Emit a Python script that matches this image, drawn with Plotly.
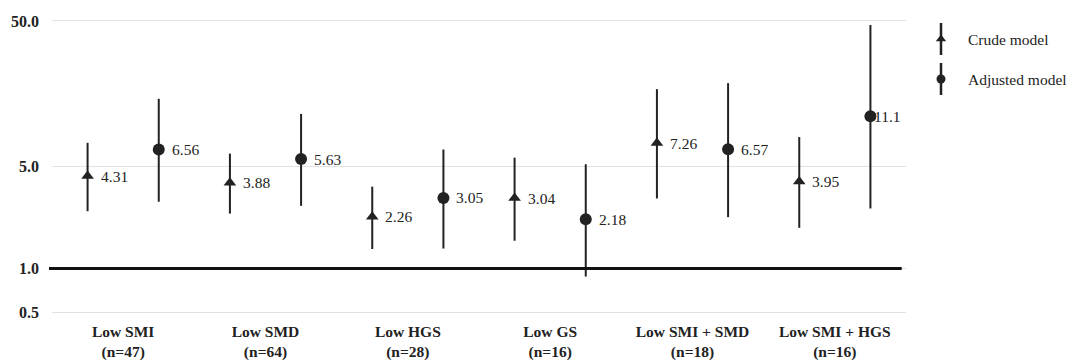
import plotly.graph_objects as go
import math

# ---- data ----
categories = ["Low SMI", "Low SMD", "Low HGS", "Low GS", "Low SMI + SMD", "Low SMI + HGS"]
n_labels = ["(n=47)", "(n=64)", "(n=28)", "(n=16)", "(n=18)", "(n=16)"]

crude = [4.31, 3.88, 2.26, 3.04, 7.26, 3.95]
crude_lo = [2.47, 2.38, 1.36, 1.55, 3.02, 1.90]
crude_hi = [7.28, 6.14, 3.64, 5.76, 17.0, 7.97]

adjusted = [6.56, 5.63, 3.05, 2.18, 6.57, 11.1]
adjusted_lo = [2.87, 2.69, 1.37, 0.88, 2.25, 2.58]
adjusted_hi = [14.6, 11.5, 6.55, 5.19, 18.7, 46.9]

y_tickvals = [0.5, 1, 5, 50]
y_ticktext = ["0.5", "1.0", "5.0", "50.0"]

# ---- styling ----
FONT = "'Liberation Serif', 'Times New Roman', Tinos, 'DejaVu Serif', serif"
INK = "#222222"
W, H = 1069, 360
ML, MR, MT, MB = 52, 9, 10, 40
plot_w = W - ML - MR
main_right_px = 906
main_dom = (main_right_px - ML) / plot_w

n = len(categories)
x_crude = [2 * i for i in range(n)]
x_adj = [2 * i + 1 for i in range(n)]

fig = go.Figure()

fig.add_trace(go.Scatter(
    x=x_crude, y=crude, mode="markers", name="Crude model",
    marker=dict(symbol="triangle-up", size=11, color=INK),
    error_y=dict(type="data", symmetric=False,
                 array=[h - v for h, v in zip(crude_hi, crude)],
                 arrayminus=[v - l for v, l in zip(crude, crude_lo)],
                 thickness=2, width=0, color=INK),
    showlegend=False, cliponaxis=False,
))
fig.add_trace(go.Scatter(
    x=x_adj, y=adjusted, mode="markers", name="Adjusted model",
    marker=dict(symbol="circle", size=12, color=INK),
    error_y=dict(type="data", symmetric=False,
                 array=[h - v for h, v in zip(adjusted_hi, adjusted)],
                 arrayminus=[v - l for v, l in zip(adjusted, adjusted_lo)],
                 thickness=2, width=0, color=INK),
    showlegend=False, cliponaxis=False,
))

# value labels
label_shift_crude = [11] * n
label_shift_adj = [11, 11, 11, 11, 11, 2]
for i in range(n):
    fig.add_annotation(x=x_crude[i], y=math.log10(crude[i]), text=f"{crude[i]:.2f}",
                       showarrow=False, xanchor="left", yanchor="middle",
                       xshift=label_shift_crude[i], font=dict(family=FONT, size=15.5, color=INK))
    txt = f"{adjusted[i]:.2f}" if adjusted[i] < 10 else f"{adjusted[i]:.1f}"
    fig.add_annotation(x=x_adj[i], y=math.log10(adjusted[i]), text=txt,
                       showarrow=False, xanchor="left", yanchor="middle",
                       xshift=label_shift_adj[i], font=dict(family=FONT, size=15.5, color=INK))

# reference line at 1.0
fig.add_shape(type="line", xref="paper", yref="y", x0=-0.003, x1=main_dom * 0.995, y0=1, y1=1,
              line=dict(color="#111111", width=3), layer="above")

# ---- manual legend on auxiliary axes (pixel units) ----
leg_x = 941
leg_items = [("Crude model", 39, "triangle-up", 9), ("Adjusted model", 79, "circle", 9)]
for name, ly, sym, sz in leg_items:
    fig.add_trace(go.Scatter(
        x=[leg_x], y=[ly], xaxis="x2", yaxis="y2", mode="markers",
        marker=dict(symbol=sym, size=sz, color=INK),
        error_y=dict(type="constant", value=16, thickness=2.5, width=0, color=INK),
        showlegend=False, hoverinfo="skip", cliponaxis=False,
    ))
    fig.add_annotation(x=966, y=ly, xref="x2", yref="y2", text=name, showarrow=False,
                       xanchor="left", yanchor="middle",
                       font=dict(family=FONT, size=15.5, color=INK))

fig.update_layout(
    width=W, height=H,
    margin=dict(l=ML, r=MR, t=MT, b=MB, pad=0, autoexpand=False),
    paper_bgcolor="white", plot_bgcolor="white",
    font=dict(family=FONT, color=INK),
    showlegend=False,
    xaxis=dict(
        domain=[0, main_dom], range=[-0.5, 2 * n - 0.5],
        tickvals=[2 * i + 0.5 for i in range(n)],
        ticktext=[f"{c}<br>{m}" for c, m in zip(categories, n_labels)],
        tickfont=dict(family=FONT, size=15.5, color=INK, weight="bold"),
        showgrid=False, zeroline=False, showline=False, ticks="",
        ticklabelstandoff=0, automargin=False,
    ),
    yaxis=dict(
        type="log", range=[-0.3538, 1.7738],
        tickvals=y_tickvals, ticktext=y_ticktext,
        tickfont=dict(family=FONT, size=16, color=INK, weight="bold"),
        showgrid=True, gridcolor="#e2e2e2", gridwidth=1,
        zeroline=False, showline=False, ticks="",
        ticklabelstandoff=12, automargin=False,
    ),
    xaxis2=dict(domain=[(930 - ML) / plot_w, 1.0], range=[930, W - MR], visible=False,
                fixedrange=True),
    yaxis2=dict(domain=[0, 1], range=[H - MB, MT], visible=False, anchor="x2", fixedrange=True),
)

fig.write_html("out.html")
